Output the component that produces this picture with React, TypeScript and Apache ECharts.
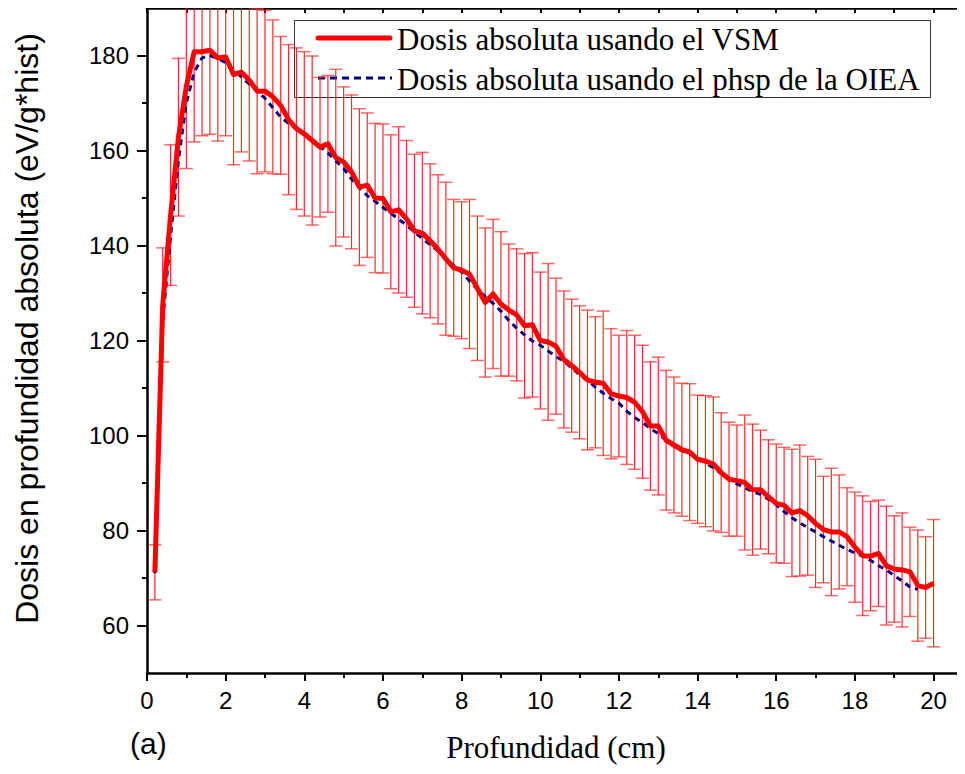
import React, { useEffect, useRef } from "react";
import * as echarts from "echarts";

const depth = [
  0.2, 0.4, 0.6, 0.8, 1.0, 1.2, 1.4, 1.6, 1.8, 2.0,
  2.2, 2.4, 2.6, 2.8, 3.0, 3.2, 3.4, 3.6, 3.8, 4.0,
  4.2, 4.4, 4.6, 4.8, 5.0, 5.2, 5.4, 5.6, 5.8, 6.0,
  6.2, 6.4, 6.6, 6.8, 7.0, 7.2, 7.4, 7.6, 7.8, 8.0,
  8.2, 8.4, 8.6, 8.8, 9.0, 9.2, 9.4, 9.6, 9.8, 10.0,
  10.2, 10.4, 10.6, 10.8, 11.0, 11.2, 11.4, 11.6, 11.8, 12.0,
  12.2, 12.4, 12.6, 12.8, 13.0, 13.2, 13.4, 13.6, 13.8, 14.0,
  14.2, 14.4, 14.6, 14.8, 15.0, 15.2, 15.4, 15.6, 15.8, 16.0,
  16.2, 16.4, 16.6, 16.8, 17.0, 17.2, 17.4, 17.6, 17.8, 18.0,
  18.2, 18.4, 18.6, 18.8, 19.0, 19.2, 19.4, 19.6, 19.8, 20.0,
];

const vsmDose = [
  71.2, 127.5, 146.4, 162.8, 173.5, 180.8, 180.8, 181.1, 179.5, 179.7,
  176.0, 176.5, 174.8, 172.5, 172.5, 171.3, 169.5, 166.5, 164.6, 163.5,
  162.1, 160.7, 161.4, 158.5, 157.6, 155.5, 152.3, 152.7, 150.0, 149.9,
  147.1, 147.5, 145.6, 143.1, 142.6, 141.0, 139.2, 137.2, 135.3, 134.8,
  134.0, 131.0, 128.0, 129.8, 127.7, 126.4, 125.4, 123.1, 123.3, 120.0,
  119.7, 118.8, 116.0, 114.7, 113.3, 111.7, 111.2, 111.0, 108.8, 108.3,
  108.0, 107.0, 105.0, 102.0, 102.0, 99.0, 98.0, 97.0, 96.5, 95.0,
  94.6, 94.0, 92.2, 90.8, 90.5, 90.1, 88.6, 88.6, 87.1, 85.7,
  85.3, 83.7, 84.2, 83.1, 81.5, 80.2, 79.7, 79.7, 78.7, 76.5,
  74.7, 74.6, 75.2, 72.6, 71.9, 71.7, 71.3, 68.4, 68.0, 68.9,
];

const vsmErr = [
  5.8, 12, 14.8, 16.6, 17.3, 19, 17.7, 17.7, 17.5, 16.6,
  19, 16.8, 17, 17.4, 17, 16.2, 14.5, 15.8, 17, 17.3,
  17.8, 14.7, 14.4, 18.6, 15.8, 16.2, 16.5, 15.2, 15.7, 15.7,
  16.2, 17.5, 16.5, 16.1, 17, 16.2, 15.7, 16.1, 14.4, 14.4,
  15.7, 15.2, 15.7, 15.7, 15.2, 13.9, 13.9, 15.2, 15.2, 14.4,
  16.5, 14.3, 14.4, 14, 14, 14.7, 13.8, 15.2, 13.7, 12.8,
  14.1, 14.1, 14, 13.5, 14.5, 14.7, 14.3, 14, 14.4, 13.5,
  13.8, 14.1, 12.6, 12, 11.7, 14.2, 13.8, 12.5, 12, 12.5,
  12.2, 13.4, 13.8, 12.5, 13.5, 11.2, 13.4, 12, 10.3, 11.6,
  12.6, 11.5, 11.2, 12.5, 11.2, 12, 9.4, 11.7, 10.7, 13.4,
];

const oieaDose = [
  71, 124, 142, 158, 170, 176.5, 179.5, 180, 179.4, 178.5,
  177, 175.5, 174, 172.5, 171, 169, 167, 165.7, 164.6, 163.3,
  162, 160.8, 159.5, 157.8, 156.2, 154, 152.2, 150.5, 149.3, 148,
  146.8, 145.5, 144.3, 142.8, 141.5, 140.2, 138.8, 137.2, 135.8, 134.4,
  132.5, 130.8, 129.2, 127.8, 126.2, 124.2, 122.6, 121.2, 119.9, 119.0,
  117.8, 116.6, 115.6, 114.2, 112.8, 111.6, 110.2, 108.9, 107.8, 106.8,
  105.1, 103.8, 102.7, 101.5, 100.4, 99, 97.7, 96.8, 96.1, 95.3,
  94.2, 93.2, 92.0, 90.8, 89.8, 89.0, 88.2, 87.6, 86.6, 85.4,
  84.0, 82.7, 81.6, 80.6, 79.7, 78.7, 77.8, 76.9, 76.0, 75.3,
  74.6, 73.7, 72.6, 71.7, 70.5, 69.4, 68.1, 67.6,
];

const xMajorTicks = [0, 2, 4, 6, 8, 10, 12, 14, 16, 18, 20];
const xMinorTicks = [1, 3, 5, 7, 9, 11, 13, 15, 17, 19];
const xTopTicks = [0, 1, 2, 3, 4, 5, 6, 7, 8, 9, 10, 11, 12, 13, 14, 15, 16, 17, 18, 19, 20];
const yMajorTicks = [60, 80, 100, 120, 140, 160, 180];
const yMinorTicks = [70, 90, 110, 130, 150, 170];

const NAME_VSM = "Dosis absoluta usando el VSM";
const NAME_OIEA = "Dosis absoluta usando el phsp de la OIEA";

const SANS = "'Liberation Sans', Arial, sans-serif";
const SERIF = "'Liberation Serif', 'Times New Roman', serif";

const RED = "#ff0000";
const NAVY = "#000080";

export default function App() {
  const ref = useRef<HTMLDivElement>(null);

  useEffect(() => {
    if (!ref.current) return;
    const chart = echarts.init(ref.current, undefined, { renderer: "svg" });

    const vsmData = depth.map((d, i) => [d, vsmDose[i]]);
    const oieaData = oieaDose.map((v, i) => [depth[i], v]);
    const errData = depth.map((d, i) => [d, vsmDose[i] - vsmErr[i], vsmDose[i] + vsmErr[i]]);

    const axisLineStyle = { color: "#000", width: 2.5 };
    const tickStyle = { color: "#000", width: 2 };

    const legendText = { fontFamily: SERIF, fontSize: 31, fill: "#000", verticalAlign: "middle", align: "left" };

    const option: any = {
      animation: false,
      backgroundColor: "#fff",
      grid: { left: 147, right: 0, top: 8, bottom: 101, containLabel: false },
      xAxis: [
        {
          type: "value",
          min: 0,
          max: 20.8,
          position: "bottom",
          axisLine: { show: true, onZero: false, lineStyle: axisLineStyle },
          axisTick: { show: true, customValues: xMajorTicks, length: 8, lineStyle: tickStyle },
          axisLabel: {
            customValues: xMajorTicks,
            fontFamily: SANS,
            fontSize: 24,
            color: "#000",
            margin: 15,
          },
          splitLine: { show: false },
          name: "Profundidad (cm)",
          nameLocation: "middle",
          nameGap: 59,
          nameTextStyle: { fontFamily: SERIF, fontSize: 31, color: "#000" },
        },
        {
          type: "value",
          min: 0,
          max: 20.8,
          position: "bottom",
          axisLine: { show: false, onZero: false },
          axisTick: { show: true, customValues: xMinorTicks, length: 5, lineStyle: tickStyle },
          axisLabel: { show: false },
          splitLine: { show: false },
        },
        {
          type: "value",
          min: 0,
          max: 20.8,
          position: "top",
          axisLine: { show: true, onZero: false, lineStyle: axisLineStyle },
          axisTick: { show: true, inside: true, customValues: xTopTicks, length: 5, lineStyle: tickStyle },
          axisLabel: { show: false },
          splitLine: { show: false },
        },
      ],
      yAxis: [
        {
          type: "value",
          min: 50,
          max: 190,
          position: "left",
          axisLine: { show: true, onZero: false, lineStyle: axisLineStyle },
          axisTick: { show: true, customValues: yMajorTicks, length: 10, lineStyle: tickStyle },
          axisLabel: {
            customValues: yMajorTicks,
            fontFamily: SANS,
            fontSize: 24,
            color: "#000",
            margin: 18,
          },
          splitLine: { show: false },
          name: "Dosis en profundidad absoluta (eV/g*hist)",
          nameLocation: "middle",
          nameGap: 104,
          nameTextStyle: {
            fontFamily: SANS,
            fontSize: 32,
            color: "#000",
            padding: [0, 0, 0, 24],
          },
        },
        {
          type: "value",
          min: 50,
          max: 190,
          position: "left",
          axisLine: { show: false, onZero: false },
          axisTick: { show: true, customValues: yMinorTicks, length: 5, lineStyle: tickStyle },
          axisLabel: { show: false },
          splitLine: { show: false },
        },
      ],
      graphic: [
        {
          type: "group",
          z: 100,
          children: [
            {
              type: "rect",
              shape: { x: 294.5, y: 20.5, width: 636, height: 77 },
              style: { fill: "#fff", stroke: "#333", lineWidth: 1 },
            },
            {
              type: "line",
              shape: { x1: 318, y1: 38, x2: 390, y2: 38 },
              style: { stroke: RED, lineWidth: 5, lineCap: "round" },
            },
            {
              type: "text",
              x: 397,
              y: 39,
              style: { ...legendText, text: NAME_VSM },
            },
            {
              type: "line",
              shape: { x1: 318, y1: 78, x2: 392, y2: 78 },
              style: { stroke: NAVY, lineWidth: 3, lineDash: [7, 5] },
            },
            {
              type: "text",
              x: 397,
              y: 79,
              style: { ...legendText, text: NAME_OIEA },
            },
          ],
        },
        {
          type: "text",
          left: 130,
          top: 728,
          style: { text: "(a)", fontFamily: SANS, fontSize: 30, fill: "#000" },
        },
      ],
      series: [
        {
          type: "custom",
          name: "errores",
          xAxisIndex: 0,
          yAxisIndex: 0,
          data: errData,
          encode: { x: 0, y: [1, 2] },
          clip: true,
          silent: true,
          z: 1,
          renderItem: (params: any, api: any) => {
            const x = api.value(0);
            const lo = api.coord([x, api.value(1)]);
            const hi = api.coord([x, api.value(2)]);
            const w = 6.5;
            const stem = { stroke: "rgba(255,0,0,0.85)", lineWidth: 1.2 };
            const cap = { stroke: "rgba(255,40,40,0.7)", lineWidth: 1.5 };
            return {
              type: "group",
              children: [
                { type: "line", shape: { x1: lo[0], y1: lo[1], x2: hi[0], y2: hi[1] }, style: stem },
                { type: "line", shape: { x1: lo[0] - w, y1: lo[1], x2: lo[0] + w, y2: lo[1] }, style: cap },
                { type: "line", shape: { x1: hi[0] - w, y1: hi[1], x2: hi[0] + w, y2: hi[1] }, style: cap },
              ],
            };
          },
        },
        {
          type: "line",
          name: NAME_OIEA,
          xAxisIndex: 0,
          yAxisIndex: 0,
          data: oieaData,
          symbol: "none",
          showSymbol: false,
          clip: true,
          z: 2,
          itemStyle: { color: NAVY },
          lineStyle: { color: NAVY, width: 3, type: [6, 5] },
        },
        {
          type: "line",
          name: NAME_VSM,
          xAxisIndex: 0,
          yAxisIndex: 0,
          data: vsmData,
          symbol: "none",
          showSymbol: false,
          clip: true,
          z: 3,
          itemStyle: { color: RED },
          lineStyle: { color: RED, width: 5, join: "round" },
        },
      ],
    };

    chart.setOption(option);
    return () => chart.dispose();
  }, []);

  return <div ref={ref} style={{ width: 965, height: 774, margin: -8 }} />;
}
